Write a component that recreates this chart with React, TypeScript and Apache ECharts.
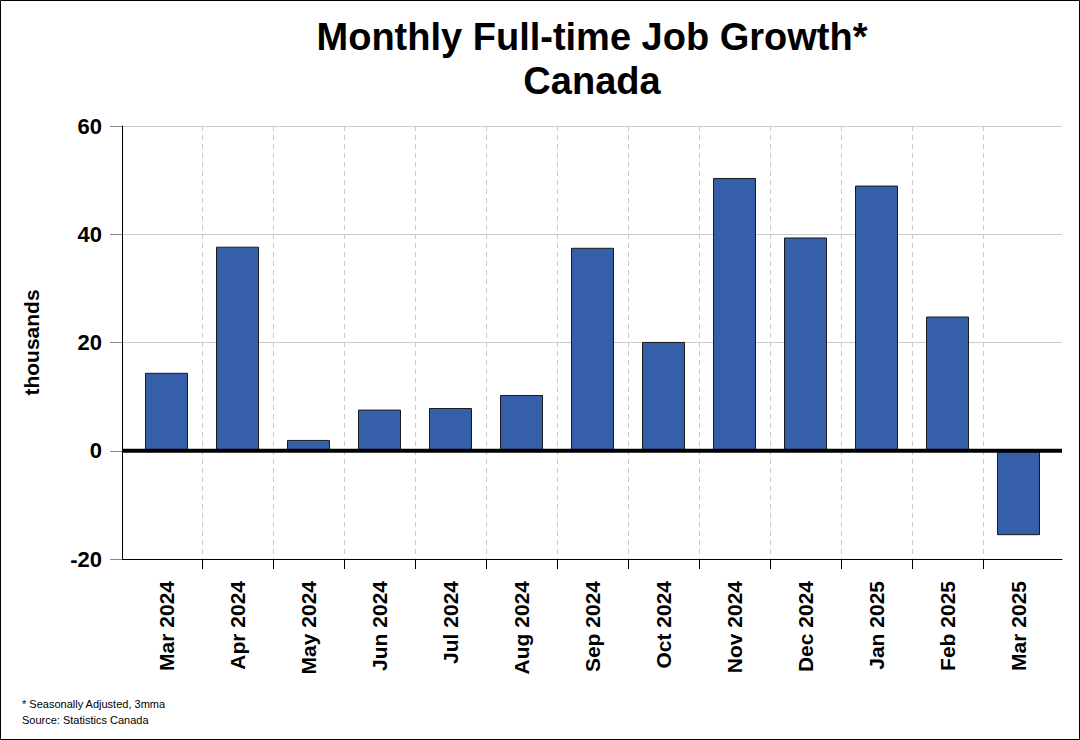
import React, { useEffect, useRef } from "react";
import * as echarts from "echarts";

const categories = [
  "Mar 2024", "Apr 2024", "May 2024", "Jun 2024", "Jul 2024", "Aug 2024",
  "Sep 2024", "Oct 2024", "Nov 2024", "Dec 2024", "Jan 2025", "Feb 2025", "Mar 2025",
];
const jobGrowth = [14.4, 37.7, 2.0, 7.6, 7.9, 10.3, 37.5, 20.1, 50.4, 39.4, 49.0, 24.8, -15.6];
const zeroLine = [[0, 0], [1, 0]];
const yMin = -20;
const yMax = 60;
const yStep = 20;
const titleText = "Monthly Full-time Job Growth*\nCanada";
const notes = ["* Seasonally Adjusted, 3mma", "Source: Statistics Canada"];

const FONT = "'Liberation Sans', Arial, sans-serif";

export default function App() {
  const ref = useRef<HTMLDivElement>(null);
  useEffect(() => {
    document.body.style.margin = "0";
    if (!ref.current) return;
    const chart = echarts.init(ref.current, null, { renderer: "svg" });
    const n = categories.length;
    // plot band geometry: grid 1 spans 131..1054, 13 bands of 71px
    const bandLeft = 131;
    const bandRight = 1054;
    const band = (bandRight - bandLeft) / n;
    const option: any = {
      animation: false,
      backgroundColor: "#ffffff",
      textStyle: { fontFamily: FONT },
      title: {
        text: titleText,
        left: 592,
        top: 15,
        textAlign: "center",
        padding: 0,
        textStyle: { fontFamily: FONT, fontSize: 38, fontWeight: "bold", color: "#000", lineHeight: 44 },
      },
      grid: [
        { left: 122, right: 18, top: 126, bottom: 181 },
        { left: bandLeft, right: 1080 - bandRight, top: 126, bottom: 181 },
        { left: bandLeft + band, right: 1080 - (bandRight - band), top: 126, bottom: 181 },
      ],
      xAxis: [
        {
          type: "value", gridIndex: 0, min: 0, max: 1, position: "bottom",
          axisLine: { show: true, onZero: false, lineStyle: { color: "#000", width: 1 } },
          axisTick: { show: false }, axisLabel: { show: false }, splitLine: { show: false },
        },
        {
          type: "category", gridIndex: 1, data: categories, boundaryGap: true,
          axisLine: { show: false },
          axisTick: { show: false },
          axisLabel: {
            rotate: 90, margin: 22, interval: 0, fontFamily: FONT, fontSize: 21, fontWeight: "bold", color: "#000",
          },
          splitLine: {
            show: true, showMinLine: false, showMaxLine: false, interval: 0,
            lineStyle: { color: "#c8c8c8", type: [5, 4], width: 1 },
          },
        },
        {
          type: "value", gridIndex: 2, min: 0.5, max: n - 1.5, interval: 1, position: "bottom",
          axisLine: { show: false, onZero: false },
          axisTick: { show: true, length: 10, lineStyle: { color: "#000" } },
          axisLabel: { show: false }, splitLine: { show: false },
        },
      ],
      yAxis: [
        {
          type: "value", gridIndex: 0, min: yMin, max: yMax, interval: yStep,
          name: "thousands", nameLocation: "middle", nameGap: 80, nameRotate: 90,
          nameTextStyle: { fontFamily: FONT, fontSize: 21, fontWeight: "bold", color: "#000" },
          axisLine: { show: true, onZero: false, lineStyle: { color: "#000", width: 1 } },
          axisTick: { show: true, length: 12, lineStyle: { color: "#888" } },
          axisLabel: { margin: 20, fontFamily: FONT, fontSize: 22, fontWeight: "bold", color: "#000" },
          splitLine: { show: true, lineStyle: { color: "#cccccc", width: 1 } },
        },
        {
          type: "value", gridIndex: 1, min: yMin, max: yMax, interval: yStep, show: false,
          splitLine: { show: false },
        },
        {
          type: "value", gridIndex: 2, min: yMin, max: yMax, interval: yStep, show: false,
          splitLine: { show: false },
        },
      ],
      series: [
        {
          type: "bar", xAxisIndex: 1, yAxisIndex: 1, data: jobGrowth, barWidth: 43,
          itemStyle: { color: "#355fa8", borderColor: "#1a1a1a", borderWidth: 1 },
          z: 3,
        },
        {
          type: "line", xAxisIndex: 0, yAxisIndex: 0, data: zeroLine, symbol: "none",
          lineStyle: { color: "#000", width: 4 }, z: 5, silent: true,
        },
      ],
      graphic: [
        {
          type: "rect", shape: { x: 0.5, y: 0.5, width: 1079, height: 739 },
          style: { fill: "none", stroke: "#000", lineWidth: 1 }, silent: true,
        },
        {
          type: "text", left: 22, top: 696,
          style: { text: notes.join("\n"), fontFamily: FONT, fontSize: 11, lineHeight: 16, fill: "#000" },
        },
      ],
    };
    chart.setOption(option);
    return () => chart.dispose();
  }, []);
  return <div ref={ref} style={{ width: 1080, height: 740 }} />;
}
